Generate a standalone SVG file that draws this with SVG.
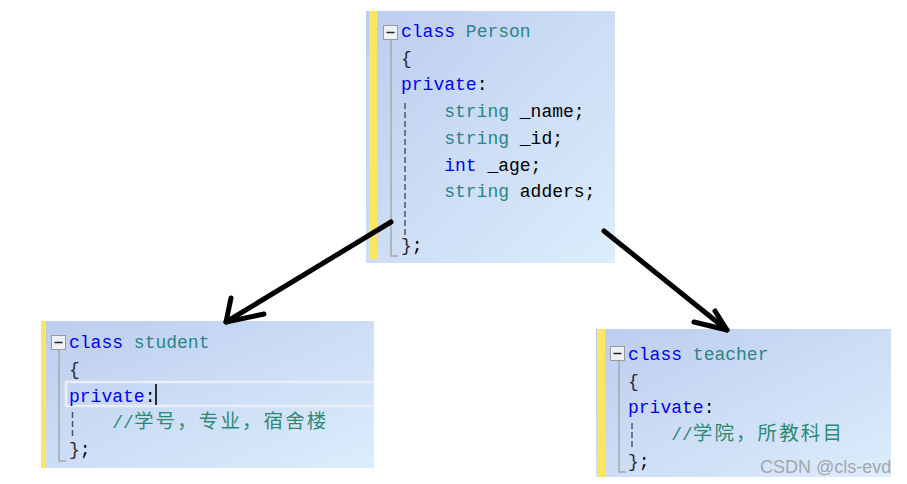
<svg xmlns="http://www.w3.org/2000/svg" width="907" height="484" viewBox="0 0 907 484">
<style>
.code{font-family:"Liberation Mono","DejaVu Sans Mono",monospace;font-size:18px;fill:#000;white-space:pre}
.kw{fill:#0000ff}
.ty{fill:#2b8585}
.cm{fill:#2f8a74}
.br{fill:#2a2430}
.cjk{font-family:"Noto Sans CJK SC",sans-serif;font-size:19.5px;letter-spacing:2.1px}
.bar{fill:#fbe663}
.fold{fill:none;stroke:#a8a8a8;stroke-width:1.5}
.dash{fill:none;stroke:#555;stroke-width:1.5;stroke-dasharray:6 3}
.box{fill:#eef2f8;stroke:#9a9a9a;stroke-width:1}
.minus{stroke:#222;stroke-width:1.5}
.arrow{fill:none;stroke:#000;stroke-width:5;stroke-linecap:round;stroke-linejoin:round}
</style>
<defs>
<linearGradient id="bg" x1="0" y1="0" x2="1" y2="1">
<stop offset="0" stop-color="#bccdef"/>
<stop offset="1" stop-color="#dcedfc"/>
</linearGradient>
</defs>
<rect width="907" height="484" fill="#fff"/>

<g id="node-person">
<rect x="366" y="11" width="249" height="252" fill="url(#bg)"/>
<rect class="bar" x="369" y="11" width="8" height="248"/>
<path class="fold" d="M391,40 V256 H398"/>
<rect class="box" x="383.5" y="25.5" width="14" height="14"/>
<line class="minus" x1="386.5" y1="32.5" x2="394.5" y2="32.5"/>
<path class="dash" d="M405,103 V235"/>
<text class="code" x="401" y="37"><tspan class="kw">class</tspan> <tspan class="ty">Person</tspan></text>
<text class="code br" x="401" y="63.7">{</text>
<text class="code" x="401" y="90.4"><tspan class="kw">private</tspan>:</text>
<text class="code" x="444.2" y="117"><tspan class="ty">string</tspan> _name;</text>
<text class="code" x="444.2" y="143.8"><tspan class="ty">string</tspan> _id;</text>
<text class="code" x="444.2" y="170.5"><tspan class="kw">int</tspan> _age;</text>
<text class="code" x="444.2" y="197"><tspan class="ty">string</tspan> adders;</text>
<text class="code" x="401" y="250.5"><tspan class="br">}</tspan>;</text>
</g>

<g id="node-student">
<rect x="41" y="321" width="333" height="147" fill="url(#bg)"/>
<rect class="bar" x="41" y="321" width="5" height="147"/>
<path class="fold" d="M59,350 V461 H66"/>
<rect class="box" x="51.5" y="335.5" width="14" height="14"/>
<line class="minus" x1="54.5" y1="342.5" x2="62.5" y2="342.5"/>
<path d="M374,382 H66 V406 H374" fill="none" stroke="#e9eef8" stroke-width="2.5"/>
<path class="dash" d="M72.5,412 V438"/>
<text class="code" x="69" y="348"><tspan class="kw">class</tspan> <tspan class="ty">student</tspan></text>
<text class="code br" x="69" y="375">{</text>
<text class="code" x="69" y="402"><tspan class="kw">private</tspan>:</text>
<line x1="156" y1="384" x2="156" y2="405" stroke="#000" stroke-width="1.6"/>
<text class="code cm" x="112.2" y="428">//<tspan class="cjk" x="134">学号，专业，宿舍楼</tspan></text>
<text class="code" x="69" y="455"><tspan class="br">}</tspan>;</text>
</g>

<g id="node-teacher">
<rect x="596" y="329" width="295" height="148" fill="url(#bg)"/>
<rect class="bar" x="597" y="329" width="8" height="148"/>
<path class="fold" d="M619,361 V472 H626"/>
<rect class="box" x="610.5" y="346.5" width="14" height="14"/>
<line class="minus" x1="613.5" y1="353.5" x2="621.5" y2="353.5"/>
<path class="dash" d="M632,423 V447"/>
<text class="code" x="628" y="360"><tspan class="kw">class</tspan> <tspan class="ty">teacher</tspan></text>
<text class="code br" x="628" y="386.7">{</text>
<text class="code" x="628" y="413.4"><tspan class="kw">private</tspan>:</text>
<text class="code cm" x="671.2" y="440">//<tspan class="cjk" x="692.8">学院，所教科目</tspan></text>
<text class="code" x="628" y="466.8"><tspan class="br">}</tspan>;</text>
</g>

<g id="connectors">
<path class="arrow" d="M391,222 L226,322"/>
<path class="arrow" d="M231,298 L226,322 L264,314"/>
<path class="arrow" d="M604,231 L727,330"/>
<path class="arrow" d="M715,311 L727,330 L694,322"/>
</g>

<text x="760" y="473" font-family="Liberation Sans, Arial, sans-serif" font-size="18" fill="#a2a6ad">CSDN @cls-evd</text>
</svg>
